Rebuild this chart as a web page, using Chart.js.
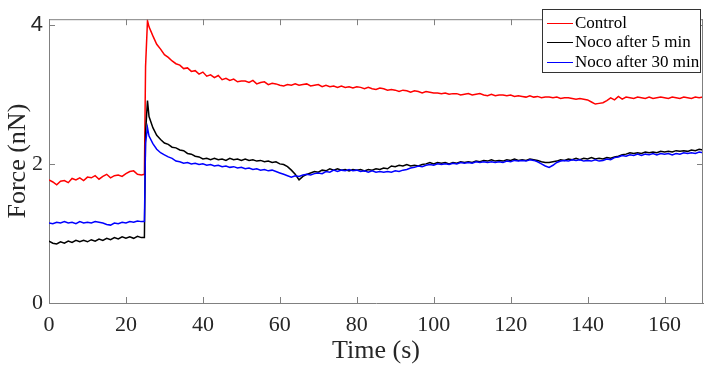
<!DOCTYPE html>
<html>
<head>
<meta charset="utf-8">
<script src="https://cdn.jsdelivr.net/npm/chart.js@4.4.1/dist/chart.umd.min.js"></script>
<style>
  html, body { margin: 0; padding: 0; background: #fff; }
  #wrap { width: 708px; height: 370px; }
</style>
</head>
<body>
<div id="wrap"><canvas id="forceChart"></canvas></div>
<script>
// time stamps (s)
const times = [0,1,2,3,4,5,6,7,8,9,10,11,12,13,14,15,16,17,18,19,20,21,22,23,24,24.8,25.1,25.6,
  26,27,28,29,30,31,32,33,34,35,36,37,38,39,40,41,42,43,44,45,46,47,48,49,50,
  51,52,53,54,55,56,57,58,59,60,61,62,63,64,65,66,67,68,69,70,71,72,73,74,75,
  76,77,78,79,80,81,82,83,84,85,86,87,88,89,90,91,92,93,94,95,96,97,98,99,100,
  101,102,103,104,105,106,107,108,109,110,111,112,113,114,115,116,117,118,119,120,
  121,122,123,124,125,126,127,128,129,130,131,132,133,134,135,136,137,138,139,140,
  141,142,143,144,145,146,147,148,149,150,151,152,153,154,155,156,157,158,159,160,
  161,162,163,164,165,166,167,168,169,170];

// force (nN)
const control = [1.77,1.74,1.70,1.75,1.76,1.73,1.79,1.77,1.80,1.76,1.81,1.80,1.83,1.78,1.82,1.85,1.80,1.83,1.84,1.82,1.86,1.89,1.90,1.85,1.84,1.85,3.40,4.06,
  3.97,3.84,3.72,3.65,3.57,3.53,3.48,3.44,3.42,3.37,3.38,3.33,3.34,3.29,3.32,3.26,3.28,3.24,3.27,3.21,3.23,3.20,3.22,3.18,3.19,
  3.19,3.17,3.20,3.15,3.17,3.18,3.14,3.16,3.15,3.13,3.12,3.14,3.13,3.15,3.13,3.14,3.15,3.12,3.13,3.14,3.11,3.13,3.11,3.12,3.10,
  3.12,3.10,3.11,3.09,3.11,3.10,3.08,3.10,3.08,3.07,3.09,3.08,3.06,3.07,3.06,3.04,3.06,3.05,3.03,3.05,3.04,3.02,3.04,3.03,3.02,
  3.02,3.01,3.02,3.00,3.01,3.01,2.99,3.00,3.01,2.99,3.00,3.01,2.99,2.98,3.00,2.98,2.99,2.99,2.98,2.99,
  2.97,2.98,2.97,2.96,2.98,2.96,2.97,2.95,2.96,2.96,2.95,2.96,2.94,2.95,2.95,2.94,2.93,2.94,2.93,2.92,
  2.89,2.86,2.87,2.88,2.91,2.95,2.92,2.97,2.93,2.96,2.95,2.94,2.96,2.95,2.94,2.96,2.94,2.95,2.96,2.95,
  2.94,2.96,2.95,2.94,2.96,2.95,2.94,2.96,2.95,2.96];

const noco5 = [0.89,0.86,0.85,0.88,0.86,0.89,0.87,0.90,0.88,0.90,0.88,0.91,0.89,0.92,0.90,0.93,0.91,0.94,0.92,0.95,0.93,0.95,0.93,0.96,0.94,0.94,2.45,2.91,
  2.68,2.52,2.41,2.35,2.30,2.28,2.24,2.23,2.20,2.19,2.15,2.14,2.11,2.10,2.07,2.08,2.06,2.08,2.06,2.07,2.05,2.08,2.06,2.07,2.05,
  2.07,2.05,2.06,2.04,2.05,2.03,2.04,2.02,2.03,2.00,1.99,1.96,1.91,1.85,1.77,1.82,1.85,1.87,1.89,1.88,1.91,1.90,1.93,1.91,1.93,
  1.91,1.92,1.90,1.92,1.91,1.92,1.90,1.92,1.91,1.93,1.92,1.94,1.93,1.97,1.96,1.98,1.97,1.99,1.97,1.98,1.97,1.99,2.00,2.02,2.00,
  2.02,2.01,2.02,2.00,2.02,2.01,2.03,2.02,2.03,2.02,2.04,2.03,2.05,2.04,2.06,2.04,2.05,2.04,2.06,2.05,
  2.07,2.05,2.06,2.05,2.07,2.06,2.05,2.03,2.02,2.02,2.03,2.04,2.06,2.05,2.07,2.06,2.08,2.06,2.08,2.07,
  2.09,2.07,2.08,2.07,2.09,2.08,2.10,2.11,2.13,2.14,2.16,2.15,2.16,2.15,2.17,2.16,2.17,2.16,2.18,2.17,
  2.18,2.17,2.19,2.18,2.19,2.18,2.20,2.19,2.21,2.20];

const noco30 = [1.15,1.14,1.16,1.15,1.17,1.15,1.16,1.14,1.17,1.15,1.16,1.15,1.17,1.16,1.15,1.13,1.12,1.15,1.14,1.16,1.15,1.17,1.16,1.18,1.17,1.17,2.30,2.52,
  2.40,2.29,2.21,2.16,2.13,2.10,2.08,2.04,2.03,2.01,2.02,2.00,2.01,1.99,2.00,1.98,1.99,1.97,1.98,1.96,1.97,1.95,1.96,1.94,1.95,
  1.93,1.94,1.92,1.93,1.91,1.92,1.90,1.91,1.89,1.87,1.85,1.83,1.81,1.83,1.82,1.84,1.85,1.84,1.86,1.87,1.86,1.89,1.88,1.91,1.89,
  1.91,1.90,1.92,1.90,1.91,1.89,1.90,1.88,1.90,1.88,1.89,1.88,1.89,1.88,1.90,1.89,1.91,1.92,1.94,1.95,1.97,1.96,1.98,1.99,1.98,
  2.00,1.99,2.00,1.99,2.01,2.00,2.02,2.01,2.02,2.01,2.03,2.02,2.03,2.02,2.03,2.02,2.03,2.02,2.04,2.03,
  2.05,2.04,2.05,2.04,2.06,2.05,2.03,2.00,1.97,1.95,1.98,2.02,2.04,2.05,2.04,2.06,2.05,2.06,2.04,2.05,
  2.04,2.06,2.04,2.05,2.07,2.06,2.09,2.10,2.12,2.11,2.13,2.12,2.14,2.12,2.14,2.13,2.15,2.13,2.15,2.14,
  2.15,2.13,2.15,2.14,2.16,2.15,2.16,2.15,2.17,2.16];

const xTicks = [0, 20, 40, 60, 80, 100, 120, 140, 160];
const yTicks = [0, 2, 4];
const seriesNames = ['Control', 'Noco after 5 min', 'Noco after 30 min'];
const seriesColors = ['#ff0000', '#000000', '#0000ff'];

const serif = '"Liberation Serif", "Times New Roman", serif';
const axisGray = '#808080';

function toPoints(ys) {
  return times.map((t, i) => ({ x: t, y: ys[i] }));
}

// box, inward ticks on all sides and the legend
const frame = {
  id: 'frame',
  afterDatasetsDraw(chart) {
    const { ctx, chartArea: a, scales } = chart;
    ctx.save();
    ctx.strokeStyle = axisGray;
    ctx.lineWidth = 1;
    ctx.beginPath();
    ctx.moveTo(a.left, a.top + 0.5); ctx.lineTo(a.right, a.top + 0.5);
    ctx.moveTo(a.right - 0.5, a.top); ctx.lineTo(a.right - 0.5, a.bottom);
    xTicks.forEach(v => {
      const px = Math.round(scales.x.getPixelForValue(v)) + 0.5;
      ctx.moveTo(px, a.bottom); ctx.lineTo(px, a.bottom - 6);
      ctx.moveTo(px, a.top); ctx.lineTo(px, a.top + 6);
    });
    yTicks.forEach(v => {
      const py = Math.round(scales.y.getPixelForValue(v)) + 0.5;
      ctx.moveTo(a.left, py); ctx.lineTo(a.left + 6, py);
      ctx.moveTo(a.right, py); ctx.lineTo(a.right - 6, py);
    });
    ctx.stroke();

    // legend
    const bx = 542.5, by = 9.5, bw = 158, bh = 63;
    ctx.fillStyle = '#fff';
    ctx.fillRect(bx, by, bw, bh);
    ctx.strokeStyle = '#333';
    ctx.strokeRect(bx, by, bw, bh);
    ctx.font = '17px ' + serif;
    ctx.textBaseline = 'middle';
    seriesNames.forEach((name, i) => {
      const y = Math.round(by + 13 + i * 19.5) + 0.5;
      ctx.strokeStyle = seriesColors[i];
      ctx.lineWidth = 1;
      ctx.beginPath();
      ctx.moveTo(547, y); ctx.lineTo(573, y);
      ctx.stroke();
      ctx.fillStyle = '#000';
      ctx.fillText(name, 575, y);
    });
    ctx.restore();
  }
};

new Chart(document.getElementById('forceChart'), {
  type: 'line',
  data: {
    datasets: [
      { label: seriesNames[0], data: toPoints(control), borderColor: seriesColors[0], order: 2 },
      { label: seriesNames[1], data: toPoints(noco5), borderColor: seriesColors[1], order: 1 },
      { label: seriesNames[2], data: toPoints(noco30), borderColor: seriesColors[2], order: 0 }
    ]
  },
  options: {
    responsive: true,
    maintainAspectRatio: false,
    animation: false,
    layout: { padding: { top: 4, right: 5, left: 0, bottom: 0 } },
    elements: {
      point: { radius: 0 },
      line: { borderWidth: 1.5, tension: 0 }
    },
    plugins: { legend: { display: false }, tooltip: { enabled: false } },
    scales: {
      x: {
        type: 'linear',
        min: 0, max: 170,
        afterFit: s => { s.height = 67; },
        grid: { display: false, drawTicks: false },
        border: { display: true, color: axisGray },
        afterBuildTicks: s => { s.ticks = xTicks.map(v => ({ value: v })); },
        ticks: { color: '#262626', padding: 9, maxRotation: 0, font: { family: serif, size: 22 } },
        title: { display: true, text: 'Time (s)', color: '#262626', padding: { top: 0, bottom: 3 }, font: { family: serif, size: 26 } }
      },
      y: {
        min: 0, max: 4.08,
        afterFit: s => { s.width = 49; },
        grid: { display: false, drawTicks: false },
        border: { display: true, color: axisGray },
        afterBuildTicks: s => { s.ticks = yTicks.map(v => ({ value: v })); },
        ticks: {
          color: '#262626', padding: 6,
          font: c => (c.tick && c.tick.value === 4)
            ? { family: '"Liberation Sans", Arial, sans-serif', size: 22 }
            : { family: serif, size: 22 }
        },
        title: { display: true, text: 'Force (nN)', color: '#262626', padding: { top: 3, bottom: 0 }, font: { family: serif, size: 26 } }
      }
    }
  },
  plugins: [frame]
});
</script>
</body>
</html>
